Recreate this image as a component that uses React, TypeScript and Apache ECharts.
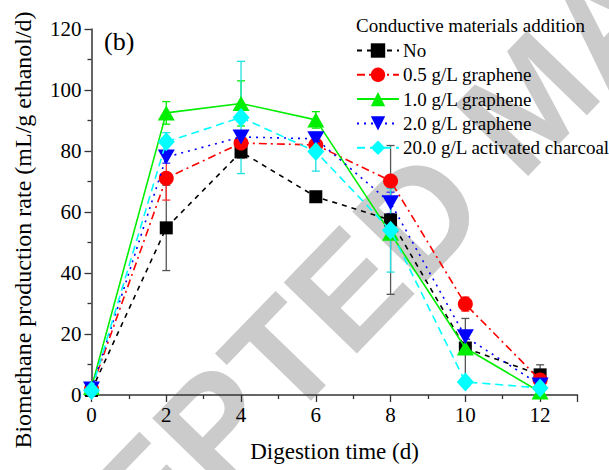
import React, { useEffect, useRef } from "react";
import * as echarts from "echarts";

const days = [0, 2, 4, 6, 8, 10, 12];
const seriesNames = [
  "No",
  "0.5 g/L graphene",
  "1.0 g/L graphene",
  "2.0 g/L graphene",
  "20.0 g/L activated charcoal",
];
const noAdd = [1.5, 54.8, 79.7, 65, 57.4, 15.4, 6.6];
const g05 = [2, 71.1, 82.6, 82, 70.2, 29.8, 4.9];
const g10 = [2.5, 92.5, 95.6, 90.2, 53, 15.4, 1];
const g20 = [2, 78, 84.6, 84, 63, 19.1, 3.3];
const ac20 = [1.5, 83, 91, 79.8, 54, 4.3, 2.3];

const errNo = [0, 14, 2, 1, 24.4, 9.7, 3.3];
const err05 = [0, 7.2, 2, 2, 1.5, 2.3, 1];
const err10 = [0, 3.7, 7.4, 2.7, 1.5, 1.5, 1];
const err20 = [0, 2, 2, 2, 3.5, 2, 1];
const errAc = [0, 3, 18.4, 6.4, 13.7, 1.5, 1];

const colors = ["#000000", "#ff0000", "#00ee00", "#0000ff", "#00ffff"];
const errColors = ["#555555", "#ff3030", "#00ee00", "#3030ff", "#22e0e0"];
const lineTypes: any[] = [[5, 5], [8, 4, 2, 4], "solid", [2, 5], [8, 5]];
const symbols = [
  "rect",
  "circle",
  "triangle",
  "path://M0,0 L10,0 L5,9 Z",
  "diamond",
];
const symbolSizes: any[] = [13, 15, [17, 15], [17, 15], [17, 19]];

const values = [noAdd, g05, g10, g20, ac20];
const errors = [errNo, err05, err10, err20, errAc];

const serif = "'Liberation Serif', 'Times New Roman', serif";

export default function App() {
  const ref = useRef<HTMLDivElement>(null);
  useEffect(() => {
    if (!ref.current) return;
    const chart = echarts.init(ref.current, null, { renderer: "svg" });

    const lineSeries = values.map((vals, i) => ({
      type: "line",
      name: seriesNames[i],
      data: days.map((d, j) => [d, vals[j]]),
      symbol: symbols[i],
      symbolSize: symbolSizes[i],
      lineStyle: { color: colors[i], width: 1.6, type: lineTypes[i] },
      itemStyle: { color: colors[i] },
      z: 3 + i,
    }));

    const errSeries = values.map((vals, i) => ({
      type: "custom",
      name: seriesNames[i] + " err",
      data: days.map((d, j) => [d, vals[j] - errors[i][j], vals[j] + errors[i][j]]),
      z: 2,
      renderItem: (params: any, api: any) => {
        const x = api.value(0);
        const lo = api.coord([x, api.value(1)]);
        const hi = api.coord([x, api.value(2)]);
        const hw = 4;
        const style = { stroke: errColors[i], lineWidth: 1.3 };
        return {
          type: "group",
          children: [
            { type: "line", shape: { x1: lo[0], y1: lo[1], x2: hi[0], y2: hi[1] }, style },
            { type: "line", shape: { x1: lo[0] - hw, y1: lo[1], x2: lo[0] + hw, y2: lo[1] }, style },
            { type: "line", shape: { x1: hi[0] - hw, y1: hi[1], x2: hi[0] + hw, y2: hi[1] }, style },
          ],
        };
      },
    }));

    const axisLine = { lineStyle: { color: "#333", width: 1.5 } };

    chart.setOption({
      animation: false,
      backgroundColor: "#ffffff",
      grid: {
        left: 91.5,
        right: 31.5,
        top: 29,
        bottom: 75,
        containLabel: false,
        outerBoundsMode: "none",
      },
      legend: {
        data: seriesNames,
        orient: "vertical",
        left: 356,
        top: 41,
        itemWidth: 42,
        itemHeight: 18,
        itemGap: 5.3,
        align: "left",
        textStyle: { fontFamily: serif, fontSize: 19, color: "#000", padding: [0, 0, 0, -1] },
        padding: 0,
      },
      xAxis: {
        type: "value",
        min: 0,
        max: 13,
        interval: 2,
        name: "Digestion time (d)",
        nameLocation: "middle",
        nameGap: 45,
        nameTextStyle: { fontFamily: serif, fontSize: 23, color: "#000" },
        axisLine,
        axisTick: { show: true, length: 7, inside: false, lineStyle: { color: "#333", width: 1.3 } },
        minorTick: { show: true, splitNumber: 2, length: 4, lineStyle: { color: "#333", width: 1.3 } },
        splitLine: { show: false },
        axisLabel: {
          fontFamily: serif,
          fontSize: 21,
          color: "#000",
          margin: 9,
          formatter: (v: number) => (v % 2 === 0 ? String(v) : ""),
        },
      },
      yAxis: {
        type: "value",
        min: 0,
        max: 120,
        interval: 20,
        axisLine,
        axisTick: { show: true, length: 7, inside: false, lineStyle: { color: "#333", width: 1.3 } },
        minorTick: { show: true, splitNumber: 2, length: 4, lineStyle: { color: "#333", width: 1.3 } },
        splitLine: { show: false },
        axisLabel: { fontFamily: serif, fontSize: 21, color: "#000", margin: 10 },
      },
      graphic: [
        {
          type: "text",
          x: 530,
          y: 100,
          rotation: (46 * Math.PI) / 180,
          z: -10,
          silent: true,
          style: {
            text: "ACCEPTED MANUSCRIPT",
            fill: "#cbcbcb",
            font: "bold 148px 'Liberation Sans', Arial, sans-serif",
            textAlign: "center",
            textVerticalAlign: "middle",
          },
        },
        {
          type: "text",
          x: 23,
          y: 230,
          rotation: Math.PI / 2,
          z: 20,
          style: {
            text: "Biomethane production rate (mL/g ethanol/d)",
            fill: "#000",
            font: "24px " + serif,
            textAlign: "center",
            textVerticalAlign: "middle",
          },
        },
        {
          type: "text",
          left: 104,
          top: 28,
          z: 20,
          style: { text: "(b)", fill: "#000", font: "26px " + serif },
        },
        {
          type: "text",
          left: 356,
          top: 16,
          z: 20,
          style: { text: "Conductive materials addition", fill: "#000", font: "19px " + serif },
        },
      ],
      series: [...errSeries, ...lineSeries],
    });
    return () => chart.dispose();
  }, []);
  return (
    <div
      ref={ref}
      style={{ position: "fixed", left: 0, top: 0, width: 609, height: 470, background: "#fff" }}
    />
  );
}
